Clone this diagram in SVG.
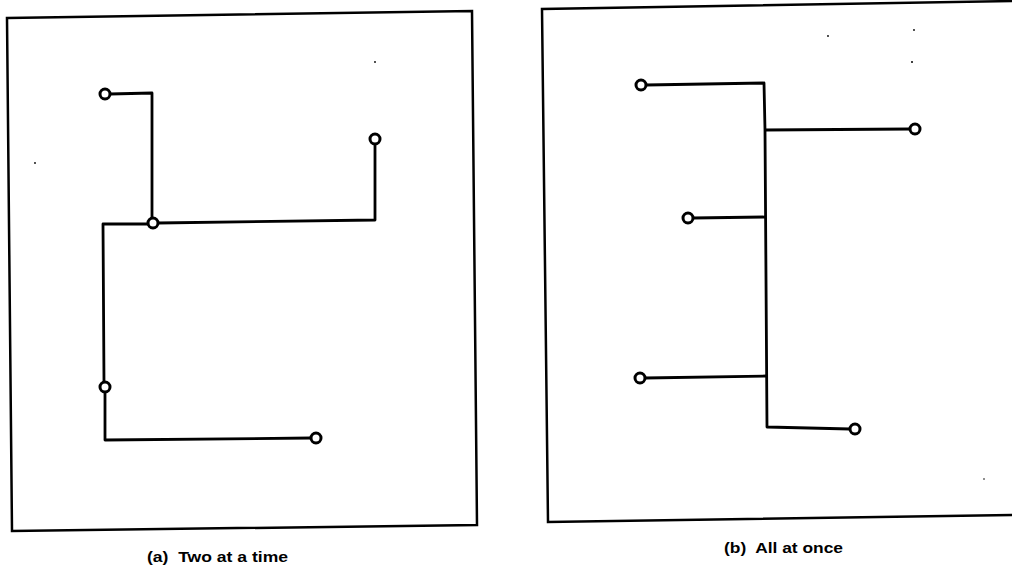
<svg xmlns="http://www.w3.org/2000/svg" width="1012" height="571" viewBox="0 0 1012 571">
  <style>
    .frame { fill: none; stroke: #000; stroke-width: 2.5; stroke-linejoin: miter; }
    .wire { fill: none; stroke: #000; stroke-width: 2.8; stroke-linejoin: round; stroke-linecap: butt; }
    .pin { fill: #fff; stroke: #000; stroke-width: 3; }
    .speck { fill: #000; }
    .caption { font-family: "Liberation Sans", Arial, sans-serif; font-weight: bold; font-size: 14px; fill: #000; }
  </style>
  <rect width="1012" height="571" fill="#fff"/>

  <!-- panel (a): pairwise routing -->
  <g id="panel-a">
    <polygon class="frame" points="7,18 472,11 477,525 12,531"/>
    <circle class="speck" cx="375" cy="62" r="0.9"/>
    <circle class="speck" cx="35" cy="163" r="0.9"/>
    <g id="wires-a">
      <polyline class="wire" points="110,94 152,93 152,218"/>
      <polyline class="wire" points="158,223 375,220 375,145"/>
      <polyline class="wire" points="148,224 103,224 104,382"/>
      <polyline class="wire" points="105,392 105,440 311,438"/>
    </g>
    <g id="a-pin1"><circle class="pin" cx="105" cy="94" r="5"/></g>
    <g id="a-pin2"><circle class="pin" cx="153" cy="223" r="5"/></g>
    <g id="a-pin3"><circle class="pin" cx="375" cy="139" r="5"/></g>
    <g id="a-pin4"><circle class="pin" cx="105" cy="387" r="5"/></g>
    <g id="a-pin5"><circle class="pin" cx="316" cy="438" r="5"/></g>
    <text class="caption" x="147" y="562" textLength="141" lengthAdjust="spacingAndGlyphs" xml:space="preserve">(a)  Two at a time</text>
  </g>

  <!-- panel (b): single trunk routing -->
  <g id="panel-b">
    <polyline class="frame" points="1014,1 542,9 548,522 1014,515"/>
    <circle class="speck" cx="828" cy="36" r="0.9"/>
    <circle class="speck" cx="914" cy="30" r="0.9"/>
    <circle class="speck" cx="912" cy="62" r="1"/>
    <circle class="speck" cx="984" cy="479" r="0.8"/>
    <g id="wires-b">
      <polyline class="wire" points="646,85 764,83 765,130 767,427 850,429"/>
      <polyline class="wire" points="765,130 910,129"/>
      <polyline class="wire" points="693,218 765,217"/>
      <polyline class="wire" points="645,378 766,376"/>
    </g>
    <g id="b-pin1"><circle class="pin" cx="641" cy="85" r="5"/></g>
    <g id="b-pin2"><circle class="pin" cx="915" cy="129" r="5"/></g>
    <g id="b-pin3"><circle class="pin" cx="688" cy="218" r="5"/></g>
    <g id="b-pin4"><circle class="pin" cx="640" cy="378" r="5"/></g>
    <g id="b-pin5"><circle class="pin" cx="855" cy="429" r="5"/></g>
    <text class="caption" x="724" y="553" textLength="119" lengthAdjust="spacingAndGlyphs" xml:space="preserve">(b)  All at once</text>
  </g>
</svg>
